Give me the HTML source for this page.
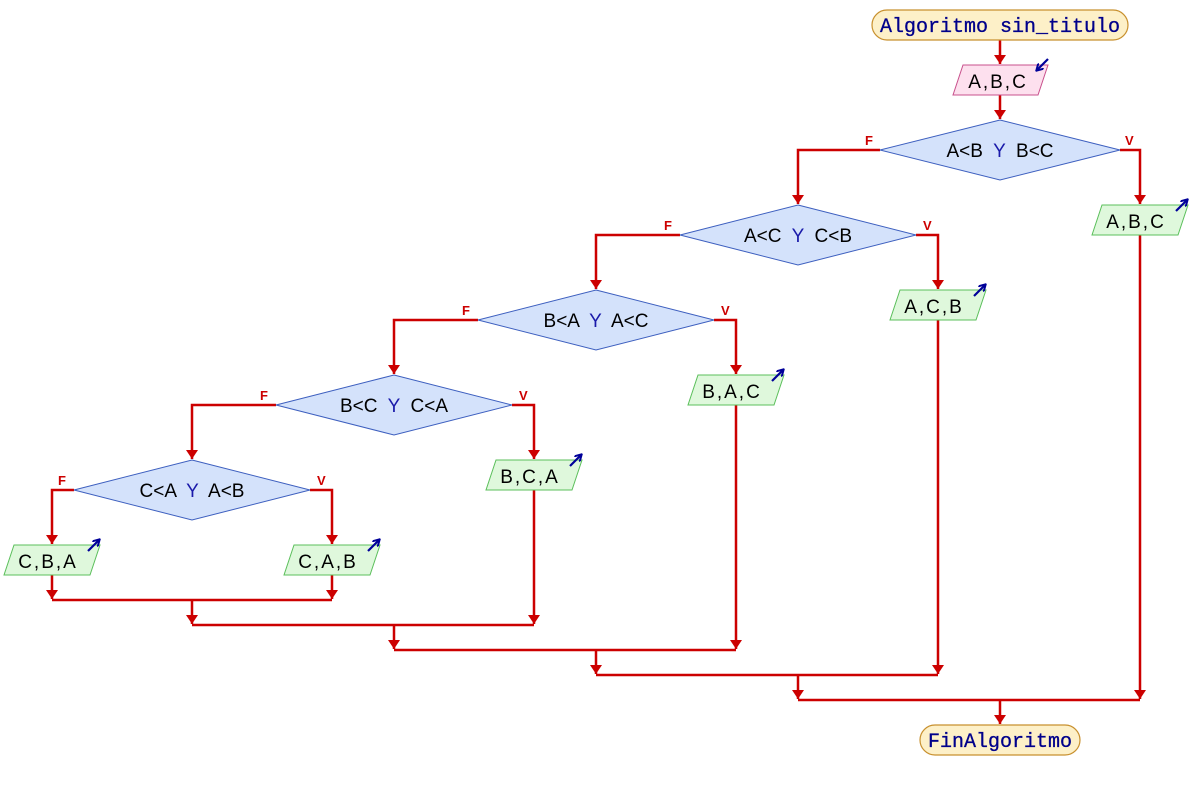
<!DOCTYPE html>
<html><head><meta charset="utf-8"><style>
html,body{margin:0;padding:0;background:#fff;width:1192px;height:790px;overflow:hidden}
svg{display:block}
text{font-family:"Liberation Sans","DejaVu Sans",sans-serif;font-size:19px;white-space:pre}
.sp{letter-spacing:2px}
.l{stroke:#cc0000;stroke-width:2.5;fill:none}
.d{fill:#d4e2fb;stroke:#3d5fbf;stroke-width:1}
.o{fill:#dff8dc;stroke:#5bbf5b;stroke-width:1}
.fl{fill:#cc0000;font-size:13px;font-weight:bold}
.ic{stroke:#000099;stroke-width:2.2;fill:none}
</style></head><body>
<svg width="1192" height="790" viewBox="0 0 1192 790">
<defs>
<marker id="a" markerWidth="12" markerHeight="10" refX="6" refY="9" orient="0" markerUnits="userSpaceOnUse">
<path d="M0,0 L12,0 L6,9z" fill="#cc0000"/></marker>
<marker id="ic" markerWidth="8" markerHeight="8" refX="6" refY="4" orient="auto" markerUnits="userSpaceOnUse">
<path d="M0,0 L7,4 L0,8" fill="none" stroke="#000099" stroke-width="2"/></marker>
</defs>

<path class="l" d="M1000,40 V64" marker-end="url(#a)"/>
<path class="l" d="M1000,95 V119" marker-end="url(#a)"/>
<path class="l" d="M880,150 H798 V204" marker-end="url(#a)"/>
<path class="l" d="M1120,150 H1140 V204" marker-end="url(#a)"/>
<path class="l" d="M680,235 H596 V289" marker-end="url(#a)"/>
<path class="l" d="M916,235 H938 V289" marker-end="url(#a)"/>
<path class="l" d="M478,320 H394 V374" marker-end="url(#a)"/>
<path class="l" d="M714,320 H736 V374" marker-end="url(#a)"/>
<path class="l" d="M276,405 H192 V459" marker-end="url(#a)"/>
<path class="l" d="M512,405 H534 V459" marker-end="url(#a)"/>
<path class="l" d="M74,490 H52 V544" marker-end="url(#a)"/>
<path class="l" d="M310,490 H332 V544" marker-end="url(#a)"/>
<path class="l" d="M52,575 V599" marker-end="url(#a)"/>
<path class="l" d="M332,575 V599" marker-end="url(#a)"/>
<path class="l" d="M52,600 H332"/>
<path class="l" d="M192,600 V624" marker-end="url(#a)"/>
<path class="l" d="M534,490 V624" marker-end="url(#a)"/>
<path class="l" d="M192,625 H534"/>
<path class="l" d="M394,625 V649" marker-end="url(#a)"/>
<path class="l" d="M736,405 V649" marker-end="url(#a)"/>
<path class="l" d="M394,650 H736"/>
<path class="l" d="M596,650 V674" marker-end="url(#a)"/>
<path class="l" d="M938,320 V674" marker-end="url(#a)"/>
<path class="l" d="M596,675 H938"/>
<path class="l" d="M798,675 V699" marker-end="url(#a)"/>
<path class="l" d="M1140,235 V699" marker-end="url(#a)"/>
<path class="l" d="M798,700 H1140"/>
<path class="l" d="M1000,700 V724" marker-end="url(#a)"/>

<text class="fl" x="865" y="145">F</text><text class="fl" x="1125" y="145">V</text>
<text class="fl" x="664" y="230">F</text><text class="fl" x="923" y="230">V</text>
<text class="fl" x="462" y="315">F</text><text class="fl" x="721" y="315">V</text>
<text class="fl" x="260" y="400">F</text><text class="fl" x="519" y="400">V</text>
<text class="fl" x="58" y="485">F</text><text class="fl" x="317" y="485">V</text>

<rect x="872" y="10" width="256" height="30" rx="15" fill="#fdf0c8" stroke="#c8902e" stroke-width="1.2"/>
<text x="1000" y="32" text-anchor="middle" style="font-family:'Liberation Mono',monospace;font-size:20px;stroke:#00008b;stroke-width:0.3" fill="#00008b">Algoritmo sin_titulo</text>
<rect x="920" y="725" width="160" height="30" rx="15" fill="#fdf0c8" stroke="#c8902e" stroke-width="1.2"/>
<text x="1000" y="747" text-anchor="middle" style="font-family:'Liberation Mono',monospace;font-size:20px;stroke:#00008b;stroke-width:0.3" fill="#00008b">FinAlgoritmo</text>

<polygon points="963,65 1048,65 1038,95 953,95" fill="#fde0ee" stroke="#c8508c" stroke-width="1"/>
<text class="sp" x="998" y="88" text-anchor="middle">A,B,C</text>
<path class="ic" d="M1048,59 L1037,70" marker-end="url(#ic)"/>

<polygon class="d" points="1000,120 1120,150 1000,180 880,150"/>
<text x="1000" y="157" text-anchor="middle">A&lt;B  <tspan fill="#1a1aaa">Y</tspan>  B&lt;C</text>
<polygon class="d" points="798,205 916,235 798,265 680,235"/>
<text x="798" y="242" text-anchor="middle">A&lt;C  <tspan fill="#1a1aaa">Y</tspan>  C&lt;B</text>
<polygon class="d" points="596,290 714,320 596,350 478,320"/>
<text x="596" y="327" text-anchor="middle">B&lt;A  <tspan fill="#1a1aaa">Y</tspan>  A&lt;C</text>
<polygon class="d" points="394,375 512,405 394,435 276,405"/>
<text x="394" y="412" text-anchor="middle">B&lt;C  <tspan fill="#1a1aaa">Y</tspan>  C&lt;A</text>
<polygon class="d" points="192,460 310,490 192,520 74,490"/>
<text x="192" y="497" text-anchor="middle">C&lt;A  <tspan fill="#1a1aaa">Y</tspan>  A&lt;B</text>

<polygon class="o" points="1102,205 1188,205 1178,235 1092,235"/>
<text class="sp" x="1136" y="228" text-anchor="middle">A,B,C</text>
<path class="ic" d="M1176,211 L1187,200" marker-end="url(#ic)"/>
<polygon class="o" points="900,290 986,290 976,320 890,320"/>
<text class="sp" x="934" y="313" text-anchor="middle">A,C,B</text>
<path class="ic" d="M974,296 L985,285" marker-end="url(#ic)"/>
<polygon class="o" points="698,375 784,375 774,405 688,405"/>
<text class="sp" x="732" y="398" text-anchor="middle">B,A,C</text>
<path class="ic" d="M772,381 L783,370" marker-end="url(#ic)"/>
<polygon class="o" points="496,460 582,460 572,490 486,490"/>
<text class="sp" x="530" y="483" text-anchor="middle">B,C,A</text>
<path class="ic" d="M570,466 L581,455" marker-end="url(#ic)"/>
<polygon class="o" points="14,545 100,545 90,575 4,575"/>
<text class="sp" x="48" y="568" text-anchor="middle">C,B,A</text>
<path class="ic" d="M88,551 L99,540" marker-end="url(#ic)"/>
<polygon class="o" points="294,545 380,545 370,575 284,575"/>
<text class="sp" x="328" y="568" text-anchor="middle">C,A,B</text>
<path class="ic" d="M368,551 L379,540" marker-end="url(#ic)"/>
</svg>
</body></html>
